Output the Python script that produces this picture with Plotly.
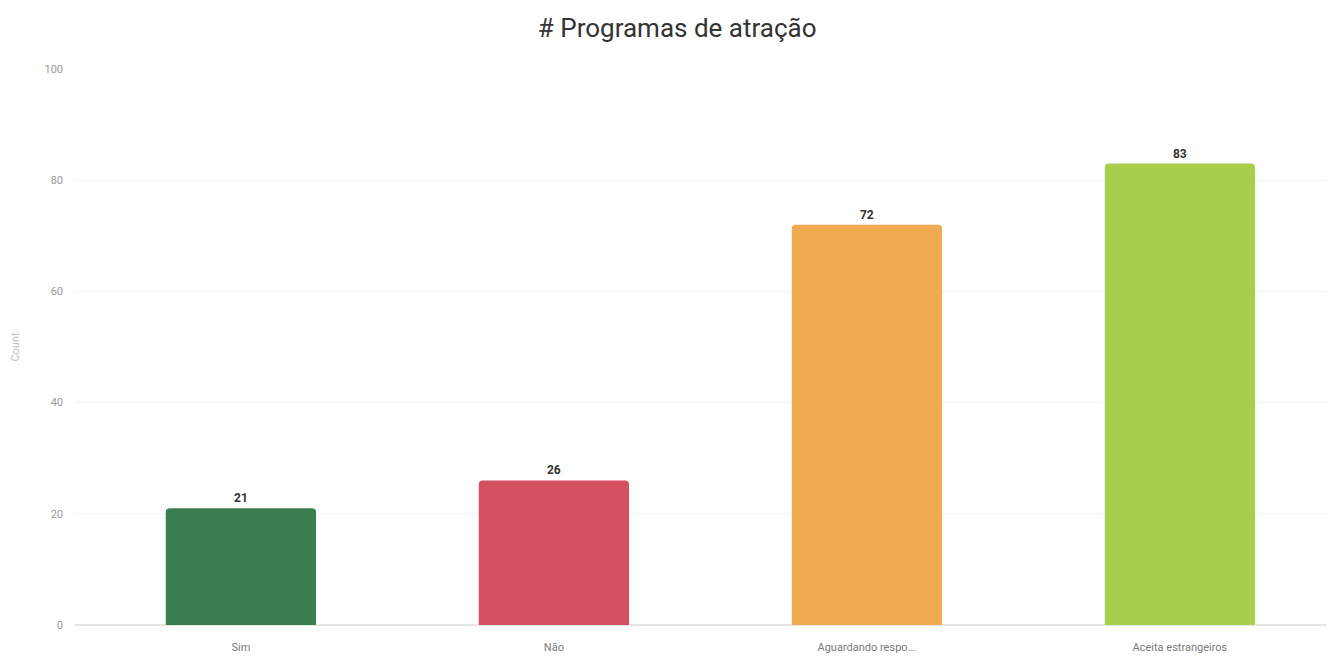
import plotly.graph_objects as go

categories = ["Sim", "Não", "Aguardando respo...", "Aceita estrangeiros"]
counts = [21, 26, 72, 83]
bar_colors = ["#3a7d4e", "#d44f5f", "#f0aa4f", "#a8cf4b"]
y_ticks = [0, 20, 40, 60, 80, 100]

fig = go.Figure(
    go.Bar(
        x=list(range(len(categories))),
        y=counts,
        marker=dict(color=bar_colors, line=dict(width=0), cornerradius=4),
        width=0.48,
        text=[str(c) for c in counts],
        textposition="outside",
        textfont=dict(family="Roboto", size=12, color="#333333", weight="bold"),
        cliponaxis=False,
    )
)

fig.update_layout(
    width=1333,
    height=657,
    margin=dict(l=75, r=6, t=69, b=32, autoexpand=False),
    paper_bgcolor="white",
    plot_bgcolor="white",
    showlegend=False,
    title=dict(
        text="# Programas de atração",
        x=0.508,
        xanchor="center",
        y=0.957,
        yanchor="middle",
        font=dict(family="Roboto", size=26, color="#333333"),
    ),
    font=dict(family="Roboto", color="#999999", size=11),
    xaxis=dict(
        tickmode="array",
        tickvals=list(range(len(categories))),
        ticktext=categories,
        range=[-0.53, 3.47],
        showgrid=False,
        zeroline=False,
        showline=False,
        ticks="",
        ticklabelstandoff=14,
        automargin=False,
        tickfont=dict(family="Roboto", size=11, color="#7a7a7a"),
    ),
    yaxis=dict(
        range=[0, 100],
        tickvals=y_ticks,
        showgrid=True,
        gridcolor="#f3f3f3",
        gridwidth=1,
        zeroline=True,
        zerolinecolor="#e6e6e6",
        showline=False,
        ticks="",
        ticklabelstandoff=11,
        automargin=False,
        tickfont=dict(family="Roboto", size=11, color="#999999"),
        title=dict(text="Count", standoff=22, font=dict(family="Roboto", size=11, color="#c0c0c0")),
    ),
)

fig.write_html("out.html")
